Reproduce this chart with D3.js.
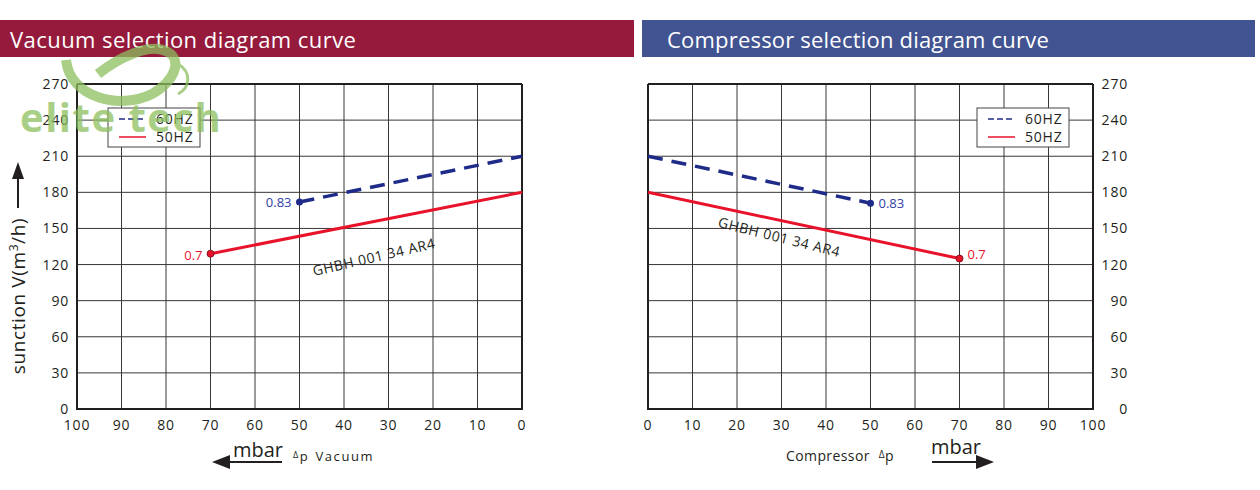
<!DOCTYPE html>
<html>
<head>
<meta charset="utf-8">
<script src="https://cdn.jsdelivr.net/npm/d3@7"></script>
<style>
  body { margin: 0; background: #fff; }
  text { font-family: "Open Sans", "DejaVu Sans", sans-serif; }
</style>
</head>
<body>
<div id="chart"></div>
<script>
// data
var xTicks = [0, 10, 20, 30, 40, 50, 60, 70, 80, 90, 100];
var yTicks = [0, 30, 60, 90, 120, 150, 180, 210, 240, 270];
var seriesNames = ["60HZ", "50HZ"];
var vac60 = [[50, 172], [0, 210]];
var vac50 = [[70, 129], [0, 180]];
var comp60 = [[0, 210], [50, 171]];
var comp50 = [[0, 180], [70, 125]];
var vacLabels = ["0.83", "0.7"];
var compLabels = ["0.83", "0.7"];
var modelName = "GHBH 001 34 AR4";

var w = 1260, h = 490;
var svg = d3.select("#chart").append("svg")
    .attr("width", w)
    .attr("height", h);

var blue = "#1f2b88", red = "#e8132a", grid = "#3a3536", ink = "#231f20";

// header bars
svg.append("rect").attr("x", 0).attr("y", 20).attr("width", 634).attr("height", 37).attr("fill", "#951a3c");
svg.append("rect").attr("x", 642).attr("y", 20).attr("width", 613).attr("height", 37).attr("fill", "#415390");
svg.append("text").attr("x", 10).attr("y", 48).attr("fill", "#fff").style("font-size", "22px")
    .style("letter-spacing", "0.45px")
    .text("Vacuum selection diagram curve");
svg.append("text").attr("x", 667).attr("y", 48).attr("fill", "#fff").style("font-size", "22px")
    .style("letter-spacing", "0.2px")
    .text("Compressor selection diagram curve");

var yScale = d3.scaleLinear().domain([0, 270]).range([409, 84]);

function drawPanel(opts) {
    var xScale = d3.scaleLinear().domain([0, 100]).range(opts.xRange);
    var g = svg.append("g");
    var x0 = Math.min(opts.xRange[0], opts.xRange[1]);
    var x1 = Math.max(opts.xRange[0], opts.xRange[1]);

    // grid
    g.selectAll(".vg").data(xTicks).enter().append("line")
        .attr("x1", function(d) { return xScale(d); })
        .attr("x2", function(d) { return xScale(d); })
        .attr("y1", yScale(0)).attr("y2", yScale(270))
        .attr("stroke", grid).attr("stroke-width", 1);
    g.selectAll(".hg").data(yTicks).enter().append("line")
        .attr("x1", x0).attr("x2", x1)
        .attr("y1", function(d) { return yScale(d); })
        .attr("y2", function(d) { return yScale(d); })
        .attr("stroke", grid).attr("stroke-width", 1);

    // frame: heavier axis lines
    g.append("line").attr("x1", x0).attr("x2", x1).attr("y1", yScale(0)).attr("y2", yScale(0))
        .attr("stroke", ink).attr("stroke-width", 2);
    g.append("line").attr("x1", x0).attr("x2", x1).attr("y1", yScale(270)).attr("y2", yScale(270))
        .attr("stroke", ink).attr("stroke-width", 2);
    g.append("line").attr("x1", x0).attr("x2", x0).attr("y1", yScale(0) + 1).attr("y2", yScale(270))
        .attr("stroke", ink).attr("stroke-width", 2);
    g.append("line").attr("x1", x1).attr("x2", x1).attr("y1", yScale(0) + 1).attr("y2", yScale(270))
        .attr("stroke", ink).attr("stroke-width", 2);

    // tick labels
    g.selectAll(".xl").data(xTicks).enter().append("text")
        .attr("x", function(d) { return xScale(d); })
        .attr("y", 430)
        .attr("text-anchor", "middle")
        .attr("fill", ink)
        .style("font-size", "14px")
        .style("letter-spacing", "0.8px")
        .text(function(d) { return d; });
    g.selectAll(".yl").data(yTicks).enter().append("text")
        .attr("x", opts.yLabelX)
        .attr("y", function(d) { return yScale(d) + 5; })
        .attr("text-anchor", "end")
        .attr("fill", ink)
        .style("font-size", "14px")
        .style("letter-spacing", "0.8px")
        .text(function(d) { return d; });

    var line = d3.line()
        .x(function(d) { return xScale(d[0]); })
        .y(function(d) { return yScale(d[1]); });

    g.append("path").datum(opts.s50).attr("d", line)
        .attr("fill", "none").attr("stroke", red).attr("stroke-width", 3);
    g.append("path").datum(opts.s60).attr("d", line)
        .attr("fill", "none").attr("stroke", blue).attr("stroke-width", 3.5)
        .attr("stroke-dasharray", "15,9");

    var end60 = opts.s60[opts.endIdx], end50 = opts.s50[opts.endIdx];
    g.append("circle").attr("cx", xScale(end60[0])).attr("cy", yScale(end60[1])).attr("r", 3.5)
        .attr("fill", blue);
    g.append("circle").attr("cx", xScale(end50[0])).attr("cy", yScale(end50[1])).attr("r", 3.5)
        .attr("fill", red).attr("stroke", "#6a0a10").attr("stroke-width", 0.8);

    g.append("text")
        .attr("x", xScale(end60[0]) + opts.lblDx)
        .attr("y", yScale(end60[1]) + 5)
        .attr("text-anchor", opts.lblAnchor)
        .attr("fill", "#3041a8")
        .style("font-size", "13px")
        .text(opts.labels[0]);
    g.append("text")
        .attr("x", xScale(end50[0]) + opts.lblDx)
        .attr("y", yScale(end50[1]) + opts.lbl50Dy)
        .attr("text-anchor", opts.lblAnchor)
        .attr("fill", red)
        .style("font-size", "13px")
        .text(opts.labels[1]);

    // model annotation
    g.append("text")
        .attr("transform", "translate(" + opts.modelPos[0] + "," + opts.modelPos[1] + ") rotate(" + opts.modelRot + ")")
        .attr("text-anchor", "middle")
        .attr("fill", ink)
        .style("font-size", "14px")
        .style("letter-spacing", "0.6px")
        .text(modelName);

    // legend
    var lg = g.append("g").attr("transform", "translate(" + opts.legendPos[0] + "," + opts.legendPos[1] + ")");
    lg.append("rect").attr("width", 92).attr("height", 39)
        .attr("fill", "#fff").attr("stroke", "#444").attr("stroke-width", 1);
    var items = lg.selectAll(".li").data(seriesNames).enter().append("g")
        .attr("transform", function(d, i) { return "translate(0," + (11 + i * 18) + ")"; });
    items.append("line")
        .attr("x1", 11).attr("x2", 38).attr("y1", 0).attr("y2", 0)
        .attr("stroke", function(d, i) { return i === 0 ? blue : red; })
        .attr("stroke-width", 1.5)
        .attr("stroke-dasharray", function(d, i) { return i === 0 ? "6,3" : null; });
    items.append("text")
        .attr("x", 48).attr("y", 5)
        .attr("fill", ink)
        .style("font-size", "14px")
        .style("letter-spacing", "0.8px")
        .text(function(d) { return d; });
}

drawPanel({
    xRange: [522, 77], yLabelX: 69,
    s60: vac60, s50: vac50, endIdx: 0, labels: vacLabels,
    lblDx: -8, lblAnchor: "end", lbl50Dy: 6,
    modelPos: [375, 262], modelRot: -13,
    legendPos: [108, 108]
});
drawPanel({
    xRange: [648, 1093], yLabelX: 1128,
    s60: comp60, s50: comp50, endIdx: 1, labels: compLabels,
    lblDx: 8, lblAnchor: "start", lbl50Dy: 0,
    modelPos: [778, 242], modelRot: 14,
    legendPos: [977, 108]
});

// y axis title with arrow
svg.append("text")
    .attr("transform", "translate(25,296) rotate(-90)")
    .attr("text-anchor", "middle")
    .attr("fill", ink)
    .style("font-size", "19px")
    .style("letter-spacing", "0.6px")
    .html("sunction V(m<tspan dy='-7' font-size='12px'>3</tspan><tspan dy='7'>/h)</tspan>");
svg.append("line").attr("x1", 18).attr("x2", 18).attr("y1", 208).attr("y2", 175)
    .attr("stroke", ink).attr("stroke-width", 2);
svg.append("path").attr("d", "M18,162 L12,179 L24,179 Z").attr("fill", ink);

// bottom axis captions
svg.append("line").attr("x1", 226).attr("x2", 282).attr("y1", 462).attr("y2", 462)
    .attr("stroke", ink).attr("stroke-width", 2);
svg.append("path").attr("d", "M212,462 L230,455 L230,469 Z").attr("fill", ink);
svg.append("text").attr("x", 233).attr("y", 457).attr("fill", ink).style("font-size", "20px").text("mbar");
svg.append("text").attr("x", 293).attr("y", 461).attr("fill", ink).style("font-size", "13px")
    .style("letter-spacing", "1.6px")
    .html("<tspan font-size='9px' dy='-3'>\u0394</tspan><tspan dy='3'>p</tspan><tspan dx='6'>Vacuum</tspan>");

svg.append("text").attr("x", 786).attr("y", 461).attr("fill", ink).style("font-size", "14px")
    .style("letter-spacing", "0.4px")
    .html("Compressor<tspan dx='9' font-size='10px' dy='-3'>\u0394</tspan><tspan dy='3'>p</tspan>");
svg.append("text").attr("x", 931).attr("y", 454).attr("fill", ink).style("font-size", "20px").text("mbar");
svg.append("line").attr("x1", 932).attr("x2", 980).attr("y1", 462).attr("y2", 462)
    .attr("stroke", ink).attr("stroke-width", 2);
svg.append("path").attr("d", "M994,462 L976,455 L976,469 Z").attr("fill", ink);

// watermark logo
var logo = svg.append("g").attr("opacity", 0.75);
logo.append("path")
    .attr("d", "M66,60 C70,98 120,110 152,94 C176,80 182,60 168,52 C150,42 118,58 98,74")
    .attr("fill", "none").attr("stroke", "#8dbf5e").attr("stroke-width", 10);
logo.append("path")
    .attr("d", "M178,64 C192,72 190,88 178,94")
    .attr("fill", "none").attr("stroke", "#8dbf5e").attr("stroke-width", 3);
logo.append("text")
    .attr("x", 20).attr("y", 132)
    .attr("fill", "#8dbf5e")
    .style("font-size", "40px")
    .style("font-weight", "bold")
    .style("letter-spacing", "1.5px")
    .text("elite tech");
</script>
</body>
</html>
